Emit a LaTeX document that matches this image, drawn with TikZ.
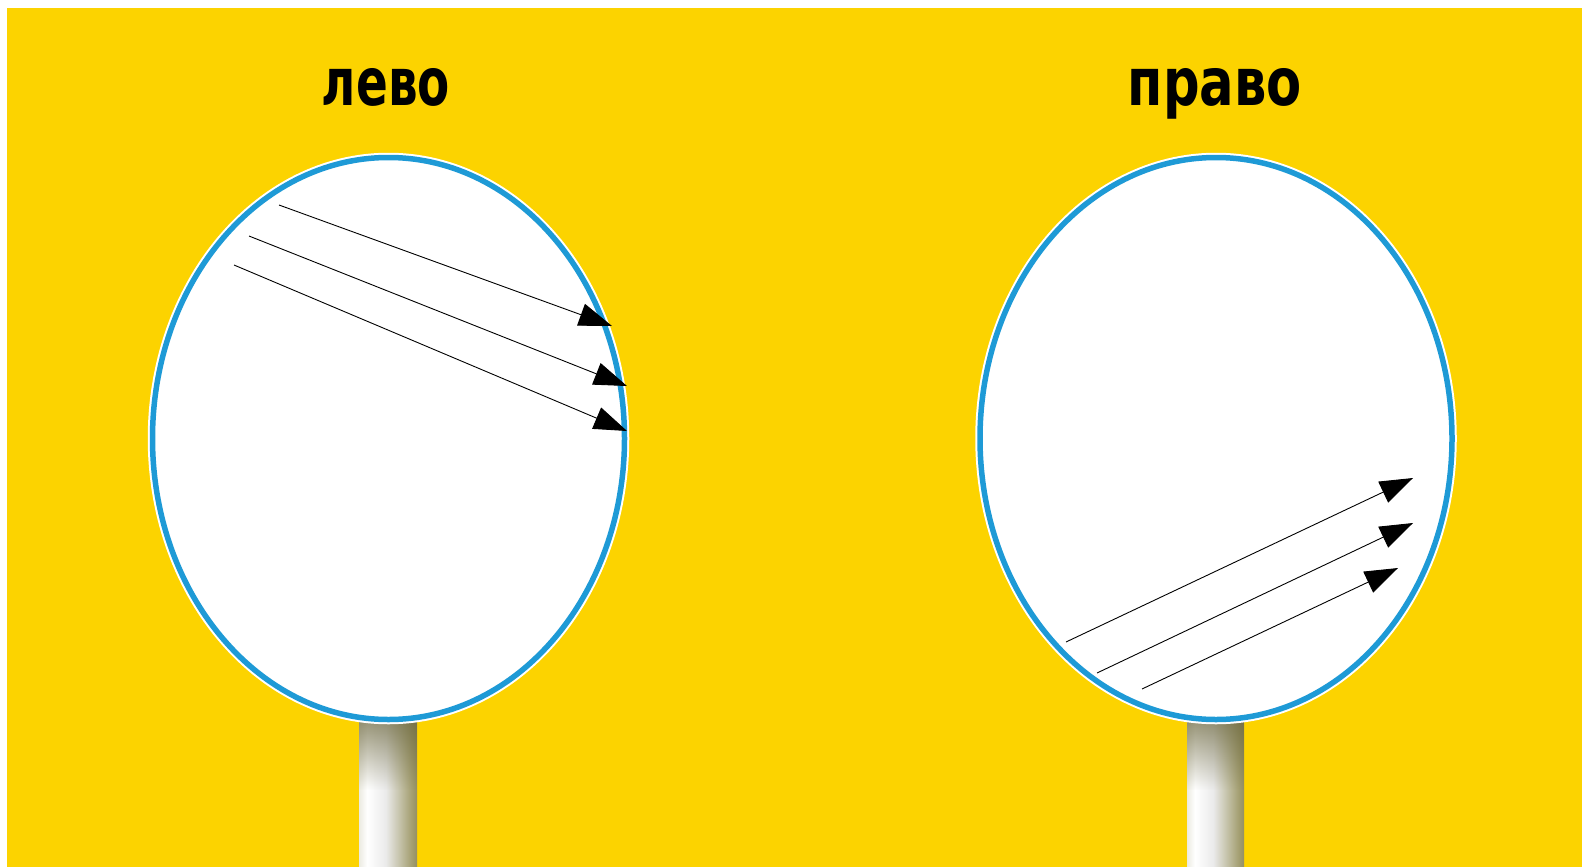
\documentclass[tikz,border=0pt]{standalone}
\usepackage{fontspec}
\setmainfont{DejaVu Sans}
\usetikzlibrary{arrows.meta,fadings}
\definecolor{bgyellow}{RGB}{252,211,0}
\definecolor{rimblue}{RGB}{30,154,214}
\definecolor{poleD}{RGB}{105,100,58}
\definecolor{poleM}{RGB}{165,160,115}
\pgfdeclarehorizontalshading{poleshade}{100bp}{color(0bp)=(poleM); color(12bp)=(poleM!60!white); color(32bp)=(white); color(48bp)=(white!92!black); color(70bp)=(poleM); color(88bp)=(poleD); color(100bp)=(poleD)}
\tikzset{
  rim/.style={draw=rimblue, line width=5.5pt, fill=white},
  glow/.style={draw=white, line width=9.5pt},
  ray/.style={draw=black, line width=0.9pt, -{Triangle[length=33pt,width=23pt]}},
  title/.style={font=\bfseries, text=black, inner sep=0pt, anchor=base},
  pole/.style={shading=poleshade}
}
\begin{document}
\begin{tikzpicture}[x=1pt,y=-1pt]
\useasboundingbox (0,0) rectangle (1582,867);
\fill[white] (0,0) rectangle (1582,867);
\fill[bgyellow] (7,8) rectangle (1582,867);
% poles
\shade[pole] (359,705) rectangle (417,867);
\fill[poleD, path fading=south, fill opacity=0.85] (359,705) rectangle (417,790);
\shade[pole] (1187,705) rectangle (1244,867);
\fill[poleD, path fading=south, fill opacity=0.85] (1187,705) rectangle (1244,790);
% mirrors
\draw[glow] (388.5,438.5) ellipse [x radius=236, y radius=281];
\draw[rim] (388.5,438.5) ellipse [x radius=236, y radius=281];
\node (lm) at (388.5,438.5) {};
\draw[glow] (1216,438.5) ellipse [x radius=236, y radius=281];
\draw[rim] (1216,438.5) ellipse [x radius=236, y radius=281];
\node (rm) at (1216,438.5) {};
% titles
\node[title] (lt) at (386,105) {\resizebox{128pt}{37pt}{\bfseries лево}};
\node[title] (rt) at (1215,105) {\resizebox{174pt}{37pt}{\bfseries право}};
% left rays
\coordinate (la1) at (279,205); \coordinate (lb1) at (612,326);
\coordinate (la2) at (249,236); \coordinate (lb2) at (627,386);
\coordinate (la3) at (234,265); \coordinate (lb3) at (627,431);
\draw[ray] (la1) -- (lb1);
\draw[ray] (la2) -- (lb2);
\draw[ray] (la3) -- (lb3);
% right rays
\coordinate (ra1) at (1066,642); \coordinate (rb1) at (1413,478);
\coordinate (ra2) at (1097,673); \coordinate (rb2) at (1413,523);
\coordinate (ra3) at (1142,689); \coordinate (rb3) at (1398,568);
\draw[ray] (ra1) -- (rb1);
\draw[ray] (ra2) -- (rb2);
\draw[ray] (ra3) -- (rb3);
\end{tikzpicture}
\end{document}
